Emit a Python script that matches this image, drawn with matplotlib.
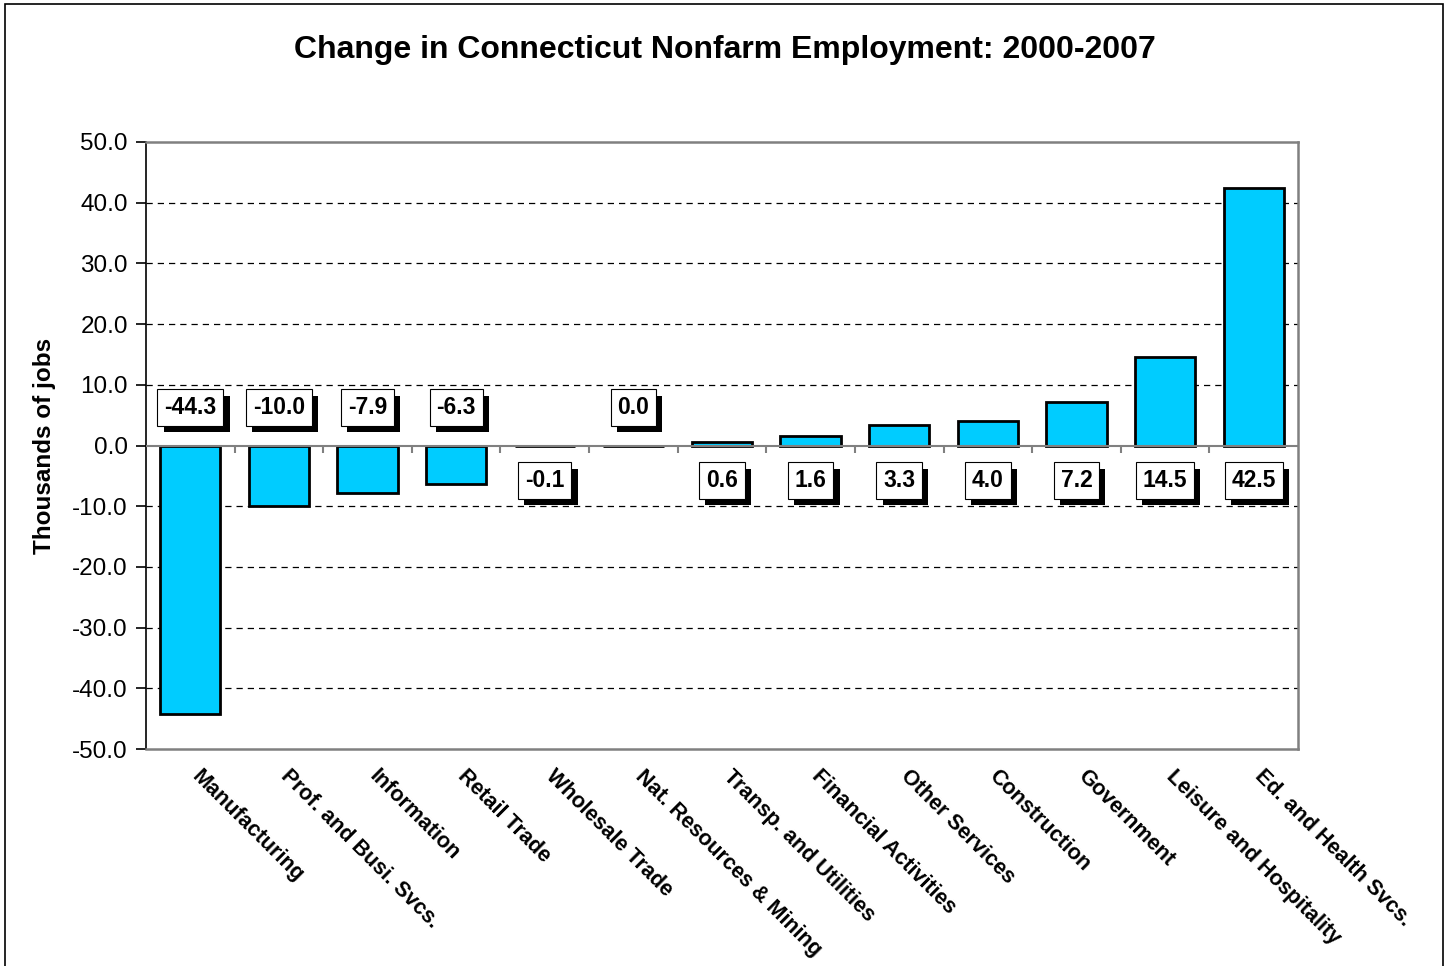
import matplotlib.pyplot as plt
import matplotlib.patheffects as pe
import matplotlib.transforms as mtransforms
from matplotlib.patches import Rectangle

plt.rcParams['font.family'] = ['Liberation Sans', 'DejaVu Sans']

categories = ["Manufacturing", "Prof. and Busi. Svcs.", "Information", "Retail Trade",
              "Wholesale Trade", "Nat. Resources & Mining", "Transp. and Utilities",
              "Financial Activities", "Other Services", "Construction", "Government",
              "Leisure and Hospitality", "Ed. and Health Svcs."]
values = [-44.3, -10.0, -7.9, -6.3, -0.1, 0.0, 0.6, 1.6, 3.3, 4.0, 7.2, 14.5, 42.5]
# label placement: +1 above the zero line, -1 below it
label_side = [1, 1, 1, 1, -1, 1, -1, -1, -1, -1, -1, -1, -1]

fig = plt.figure(figsize=(14.5, 9.66), dpi=100)
ax = fig.add_axes([146 / 1450, 1 - 749 / 966, (1298 - 146) / 1450, (749 - 142) / 966])

x = list(range(len(values)))
ax.bar(x, values, width=0.68, color='#00CCFF', edgecolor='black', linewidth=2, zorder=3)

ax.set_xlim(-0.5, len(values) - 0.5)
ax.set_ylim(-50, 50)
ax.set_yticks(range(-50, 51, 10))
ax.set_yticklabels([f"{v:.1f}" for v in range(-50, 51, 10)], fontsize=17.5)
for v in range(-40, 50, 10):
    if v != 0:
        ax.axhline(v, color='black', linestyle=(0, (5, 4)), linewidth=0.9, zorder=1)
ax.axhline(0, color='#808080', linewidth=1.5, zorder=4)
ax.vlines([i + 0.5 for i in x[:-1]], -1.3, 0, color='#808080', linewidth=1.5, zorder=4)

ax.set_xticks(x)
ax.set_xticklabels(categories, rotation=-45, ha='left', va='top', rotation_mode='anchor',
                   fontsize=15.5, fontweight='bold')
ax.tick_params(axis='x', length=0, pad=12)
shift = mtransforms.ScaledTranslation(12 / 100, 0, fig.dpi_scale_trans)
for lbl in ax.get_xticklabels():
    lbl.set_transform(lbl.get_transform() + shift)
ax.tick_params(axis='y', length=7, width=1.2, direction='out', pad=6)

for side in ['top', 'right', 'bottom']:
    ax.spines[side].set_color('#808080')
    ax.spines[side].set_linewidth(1.8)
ax.spines['left'].set_color('black')
ax.spines['left'].set_linewidth(1.2)

ax.set_ylabel("Thousands of jobs", fontsize=17.5, fontweight='bold', labelpad=12)

for i, v in enumerate(values):
    y = 6.2 if label_side[i] > 0 else -5.8
    t = ax.text(i, y, f"{v:.1f}", ha='center', va='center', fontsize=16.5, fontweight='bold',
                zorder=6,
                bbox=dict(boxstyle='square,pad=0.3', facecolor='white', edgecolor='black',
                          linewidth=0.8))
    t.get_bbox_patch().set_path_effects([
        pe.SimplePatchShadow(offset=(4.5, -4.5), shadow_rgbFace='black', alpha=1.0),
        pe.Normal()])

fig.text(0.5, 1 - 50 / 966, "Change in Connecticut Nonfarm Employment: 2000-2007",
         ha='center', va='center', fontsize=23, fontweight='bold')

fig.patches.append(Rectangle((5 / 1450, -0.1), (1443 - 5) / 1450, 1.1 - 4 / 966,
                             transform=fig.transFigure, fill=False, edgecolor='black',
                             linewidth=1.2))

fig.savefig('out.png', dpi=100)
